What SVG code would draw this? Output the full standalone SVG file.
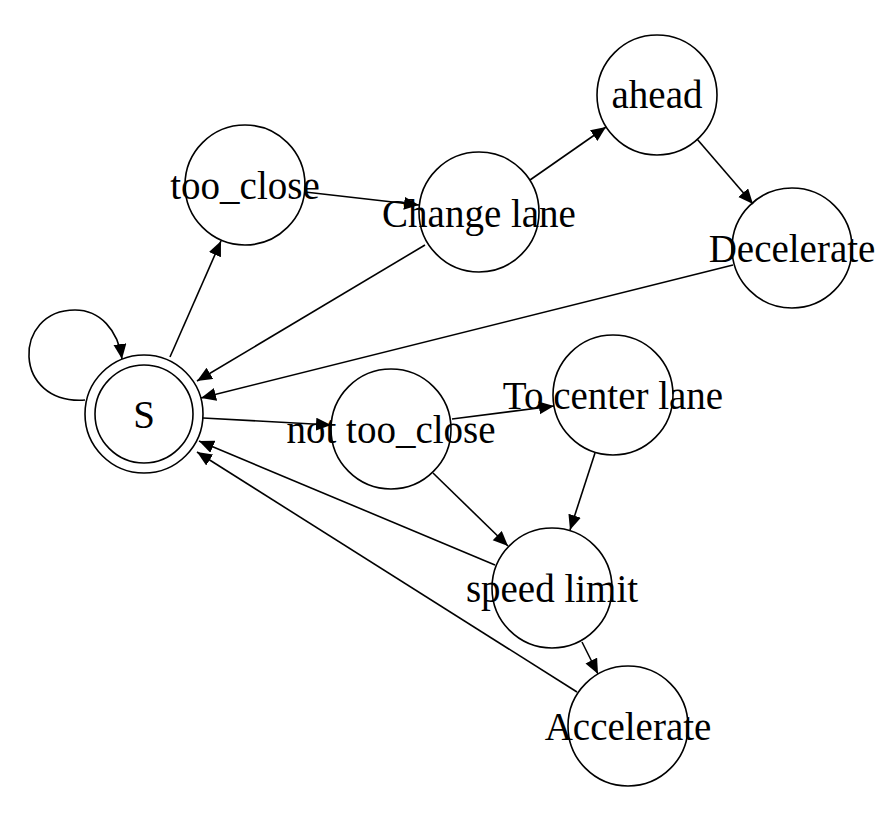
<svg xmlns="http://www.w3.org/2000/svg" width="896" height="820" viewBox="0 0 896 820">
<defs>
<style>
.n{fill:none;stroke:#000;stroke-width:1.6}
.t{font-family:"Liberation Serif","Times New Roman",serif;font-size:39px;text-anchor:middle;fill:#000}
.e{fill:none;stroke:#000;stroke-width:1.6;marker-end:url(#ah)}
</style>
<marker id="ah" markerUnits="userSpaceOnUse" markerWidth="17" markerHeight="14" refX="15" refY="6.5" orient="auto">
<path d="M0,0 L15,6.5 L0,13 z" fill="#000"/>
</marker>
</defs>
<rect width="896" height="820" fill="#fff"/>
<g id="edges">
<path class="e" d="M85,400 C12,405 12,310 75,310 C100,310 118,330 122,359"/>
<path class="e" d="M170,357 L221,241"/>
<path class="e" d="M305,192 L419,205"/>
<path class="e" d="M530,180 L606,127"/>
<path class="e" d="M697,139 L753,204"/>
<path class="e" d="M425,245 L197,381"/>
<path class="e" d="M733,265 L201,398"/>
<path class="e" d="M203,418 L331,425"/>
<path class="e" d="M452,419 L554,406"/>
<path class="e" d="M433,473 L508,546"/>
<path class="e" d="M595,453 L570,530"/>
<path class="e" d="M495,565 L199,441"/>
<path class="e" d="M582,642 L598,674"/>
<path class="e" d="M577,692 L197,452"/>
</g>
<g id="S"><circle class="n" cx="144" cy="414" r="59"/><circle class="n" cx="144" cy="414" r="49"/><text class="t" x="144" y="427.5">S</text></g>
<g id="too_close"><circle class="n" cx="245" cy="185" r="60"/><text class="t" x="245" y="198.5">too_close</text></g>
<g id="change_lane"><circle class="n" cx="479" cy="212" r="60"/><text class="t" x="479" y="226.5">Change lane</text></g>
<g id="ahead"><circle class="n" cx="657" cy="95" r="60"/><text class="t" x="657" y="108">ahead</text></g>
<g id="decelerate"><circle class="n" cx="792" cy="248" r="60"/><text class="t" x="792" y="262">Decelerate</text></g>
<g id="not_too_close"><circle class="n" cx="391" cy="429" r="60"/><text class="t" x="391" y="442.5">not too_close</text></g>
<g id="to_center_lane"><circle class="n" cx="613" cy="395" r="60"/><text class="t" x="613" y="408.5">To center lane</text></g>
<g id="speed_limit"><circle class="n" cx="552" cy="588" r="60"/><text class="t" x="552" y="602">speed limit</text></g>
<g id="accelerate"><circle class="n" cx="628" cy="726" r="60"/><text class="t" x="628" y="740">Accelerate</text></g>
</svg>
